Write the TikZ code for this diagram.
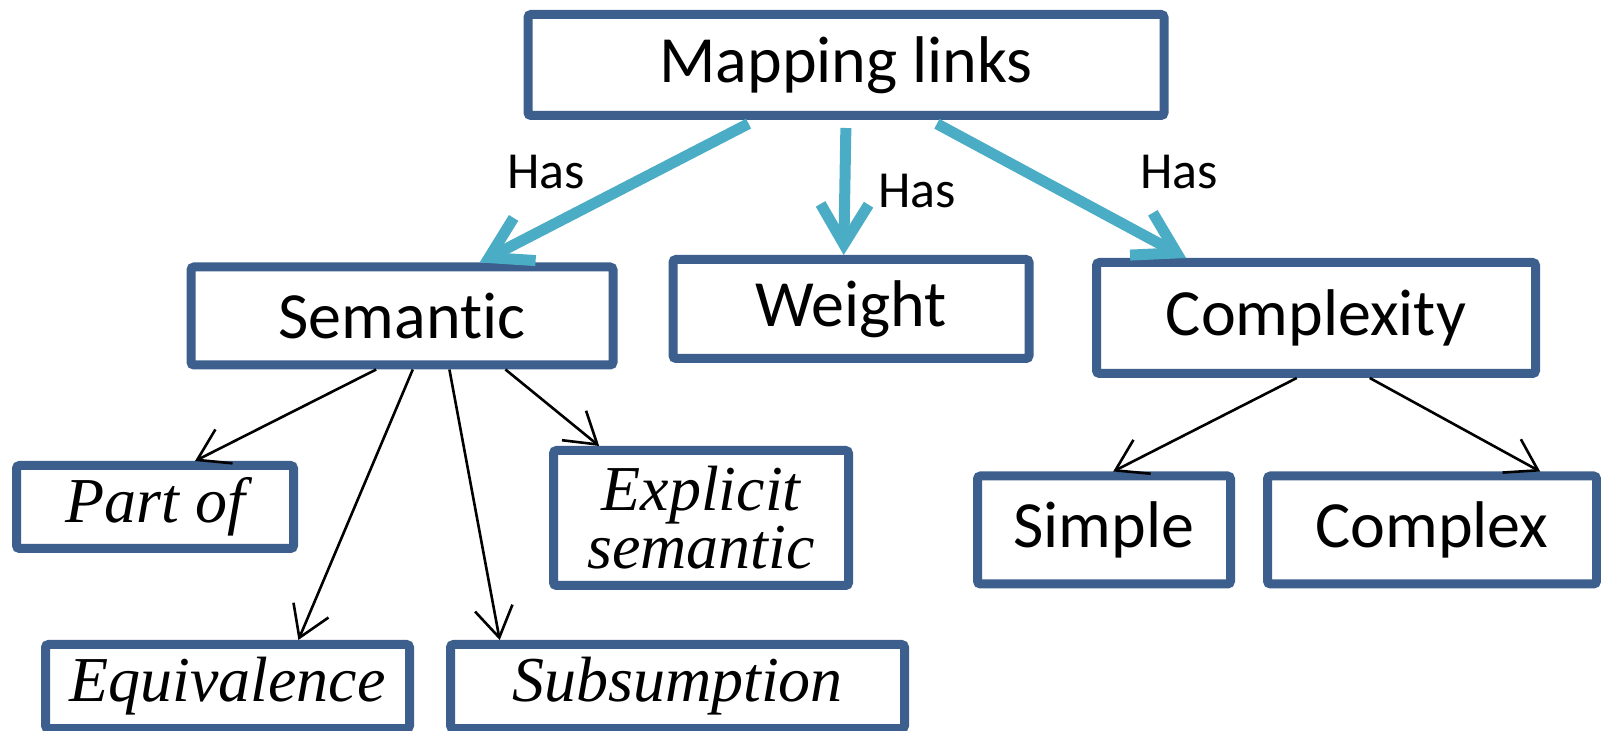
\documentclass[tikz,border=0pt]{standalone}
\usepackage{fontspec}
\setmainfont{Carlito}[Ligatures=NoCommon]
\newfontfamily\itserif{Liberation Serif}
\usetikzlibrary{arrows.meta,calc}
\definecolor{boxblue}{HTML}{3C5F8D}
\definecolor{arrblue}{HTML}{4BACC6}

\tikzset{
	box/.style={draw=boxblue, line width=4.5pt, rounded corners=1.5pt, fill=white, inner sep=0pt, font=\fontsize{33}{36}\selectfont},
	itbox/.style={box, font=\itserif\itshape\fontsize{32}{27}\selectfont, align=center},
	hasarrow/.style={draw=arrblue, line width=5.5pt, -{Straight Barb[length=20pt,width=24pt]}},
	subarrow/.style={draw=black, line width=1.3pt, -{Straight Barb[length=15pt,width=19pt]}},
	haslbl/.style={font=\fontsize{26}{28}\selectfont, inner sep=0pt},
}

\begin{document}
\begin{tikzpicture}[x=0.5pt,y=-0.5pt]
		\useasboundingbox (0,0) rectangle (1601,731);
		\node[box, minimum width=318pt, minimum height=50.5pt] (map) at (846,65) {Mapping links};
		\node[box, minimum width=211pt, minimum height=49pt] (sem) at (402,316) {Semantic};
		\node[box, minimum width=178pt, minimum height=49.5pt] (wt) at (851,309) {Weight};
		\node[box, minimum width=219.5pt, minimum height=55.5pt] (cplx) at (1316,318) {Complexity};
		\node[itbox, minimum width=138.5pt, minimum height=41.5pt] (partof) at (155,507) {Part of};
		\node[itbox, minimum width=147.5pt, minimum height=67.5pt] (expl) at (701,518) {Explicit\\semantic};
		\node[itbox, minimum width=182pt, minimum height=42pt] (equiv) at (227.5,686.5) {Equivalence};
		\node[itbox, minimum width=227pt, minimum height=42pt] (subs) at (677.5,686.5) {Subsumption};
		\node[box, minimum width=126.5pt, minimum height=54pt] (simple) at (1104,530) {Simple};
		\node[box, minimum width=164.5pt, minimum height=54pt] (complex) at (1432,530) {Complex};

		\node[haslbl] (has1) at (546,172) {Has};
		\node[haslbl] (has2) at (917,191) {Has};
		\node[haslbl] (has3) at (1179,172) {Has};

		\draw[hasarrow, shorten <=4pt] ($(map.south west)!.36!(map.south east)$) -- ($(sem.north west)!.68!(sem.north east)$);
		\draw[hasarrow, shorten <=4pt] ($(map.south west)!.5!(map.south east)$) -- ($(wt.north west)!.48!(wt.north east)$);
		\draw[hasarrow, shorten <=4pt] ($(map.south west)!.63!(map.south east)$) -- ($(cplx.north west)!.21!(cplx.north east)$);

		\draw[subarrow] ($(sem.south west)!.44!(sem.south east)$) -- ($(partof.north west)!.64!(partof.north east)$);
		\draw[subarrow] ($(sem.south west)!.525!(sem.south east)$) -- ($(equiv.north west)!.69!(equiv.north east)$);
		\draw[subarrow] ($(sem.south west)!.61!(sem.south east)$) -- ($(subs.north west)!.116!(subs.north east)$);
		\draw[subarrow] ($(sem.south west)!.74!(sem.south east)$) -- ($(expl.north west)!.165!(expl.north east)$);
		\draw[subarrow] ($(cplx.south west)!.457!(cplx.south east)$) -- ($(simple.north west)!.535!(simple.north east)$);
		\draw[subarrow] ($(cplx.south west)!.62!(cplx.south east)$) -- ($(complex.north west)!.82!(complex.north east)$);
	\end{tikzpicture}
\end{document}
